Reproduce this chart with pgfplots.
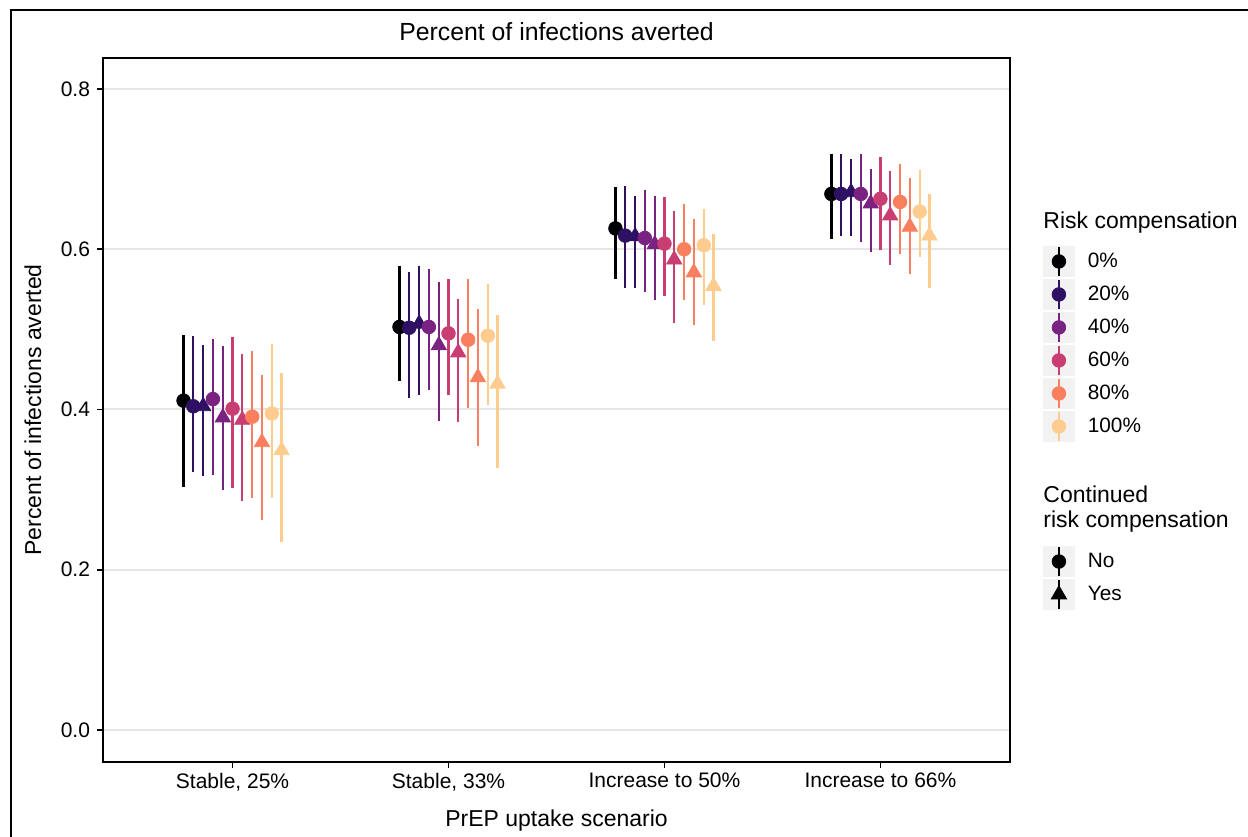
\documentclass[border=0pt]{standalone}
\usepackage{fontspec}
\setmainfont{Liberation Sans}
\usepackage{pgfplots}
\pgfplotsset{compat=1.18}
\definecolor{c0}{HTML}{000004}
\definecolor{c20}{HTML}{2F1163}
\definecolor{c40}{HTML}{7A2282}
\definecolor{c60}{HTML}{C83E73}
\definecolor{c80}{HTML}{FA7F5E}
\definecolor{c100}{HTML}{FECC8F}
\definecolor{gridc}{HTML}{E6E6E6}
\definecolor{keybg}{HTML}{F2F2F2}
\pgfplotsset{
 keycirc/.style={legend image code/.code={
   \fill[keybg] (0bp,-7.5bp) rectangle (15.5bp,7.5bp);
   \draw[#1,line width=1.2bp] (7.75bp,-7.4bp)--(7.75bp,7.4bp);
   \fill[#1] (7.75bp,0bp) circle (3.4bp);
   \path (22bp,0bp);}},
 keytri/.style={legend image code/.code={
   \fill[keybg] (0bp,-7.5bp) rectangle (15.5bp,7.5bp);
   \draw[#1,line width=1.2bp] (7.75bp,-7.4bp)--(7.75bp,7.4bp);
   \fill[#1] (7.75bp,4.4bp) -- (11.56bp,-2.2bp) -- (3.94bp,-2.2bp) -- cycle;
   \path (22bp,0bp);}},
 pr/.style={only marks, color=#1, mark options={draw=none, fill=#1},
   error bars/y dir=both, error bars/y explicit, error bars/error mark=none,
   error bars/error bar style={line width=1.2bp, color=#1}},
 prc/.style={pr=#1, mark=*, mark size=3.4bp},
 prt/.style={pr=#1, mark=triangle*, mark size=4.4bp},
}
\newcommand{\tfont}{\fontsize{12.4bp}{14bp}\selectfont}
\newcommand{\lfont}{\fontsize{11.5bp}{12.5bp}\selectfont}
\newcommand{\kfont}{\fontsize{10.5bp}{12bp}\selectfont}
\newcommand{\gfont}{\fontsize{10.4bp}{12bp}\selectfont}
\begin{document}
\begin{tikzpicture}
\useasboundingbox (-51.5bp,-37.5bp) rectangle (572.5bp,381bp);
\draw[line width=1bp] (-46bp,-40bp) -- (-46bp,376bp) -- (580bp,376bp);
\begin{axis}[
 at={(0,0)}, anchor=south west, scale only axis, width=453.5bp, height=352bp,
 clip=false,
 xmin=-0.6, xmax=3.6, ymin=-0.04, ymax=0.8387,
 xtick={0,1,2,3},
 xticklabels={{Stable, 25\%},{Stable, 33\%},{Increase to 50\%},{Increase to 66\%}},
 ytick={0,0.2,0.4,0.6,0.8}, yticklabels={0.0,0.2,0.4,0.6,0.8},
 /pgf/number format/assume math mode=true,
 ymajorgrids, major grid style={gridc, line width=1bp},
 tick align=outside, major tick length=3bp, tick style={black, line width=0.8bp},
 xtick pos=bottom, ytick pos=left,
 axis line style={line width=0.9bp},
 ticklabel style={font=\kfont, text=black},
 xticklabel style={yshift=1bp},
 xlabel={PrEP uptake scenario},
 xlabel style={at={(axis description cs:0.5,-0.0835)}, anchor=center, font=\lfont},
 ylabel={Percent of infections averted},
 ylabel style={at={(axis description cs:-0.0772,0.5)}, anchor=center, font=\lfont},
 legend style={at={(axis description cs:1.0364,0.7337)}, anchor=north west,
   draw=none, fill=none, inner sep=0pt, outer sep=0pt, row sep=0.5bp,
   font=\gfont, cells={anchor=west}, nodes={inner sep=0pt}},
]
% 0% No
\addplot[prc=c0, forget plot] table[x=x,y=y,y error plus expr=\thisrow{hi}-\thisrow{y},y error minus expr=\thisrow{y}-\thisrow{lo}] {
x y lo hi
-0.227 0.411 0.303 0.493
0.773 0.503 0.435 0.579
1.773 0.626 0.563 0.678
2.773 0.669 0.613 0.719
};
% 20% No
\addplot[prc=c20, forget plot] table[x=x,y=y,y error plus expr=\thisrow{hi}-\thisrow{y},y error minus expr=\thisrow{y}-\thisrow{lo}] {
x y lo hi
-0.182 0.404 0.322 0.492
0.818 0.502 0.414 0.572
1.818 0.617 0.552 0.679
2.818 0.669 0.617 0.719
};
% 20% Yes
\addplot[prt=c20, forget plot] table[x=x,y=y,y error plus expr=\thisrow{hi}-\thisrow{y},y error minus expr=\thisrow{y}-\thisrow{lo}] {
x y lo hi
-0.136 0.404 0.317 0.480
0.864 0.507 0.418 0.579
1.864 0.616 0.552 0.666
2.864 0.671 0.617 0.713
};
% 40% No
\addplot[prc=c40, forget plot] table[x=x,y=y,y error plus expr=\thisrow{hi}-\thisrow{y},y error minus expr=\thisrow{y}-\thisrow{lo}] {
x y lo hi
-0.091 0.413 0.318 0.488
0.909 0.503 0.424 0.575
1.909 0.614 0.547 0.674
2.909 0.669 0.609 0.719
};
% 40% Yes
\addplot[prt=c40, forget plot] table[x=x,y=y,y error plus expr=\thisrow{hi}-\thisrow{y},y error minus expr=\thisrow{y}-\thisrow{lo}] {
x y lo hi
-0.045 0.390 0.300 0.479
0.955 0.480 0.386 0.559
1.955 0.606 0.537 0.667
2.955 0.657 0.597 0.700
};
% 60% No
\addplot[prc=c60, forget plot] table[x=x,y=y,y error plus expr=\thisrow{hi}-\thisrow{y},y error minus expr=\thisrow{y}-\thisrow{lo}] {
x y lo hi
0.000 0.401 0.302 0.491
1.000 0.495 0.418 0.563
2.000 0.607 0.542 0.665
3.000 0.663 0.599 0.715
};
% 60% Yes
\addplot[prt=c60, forget plot] table[x=x,y=y,y error plus expr=\thisrow{hi}-\thisrow{y},y error minus expr=\thisrow{y}-\thisrow{lo}] {
x y lo hi
0.045 0.387 0.286 0.469
1.045 0.471 0.384 0.538
2.045 0.587 0.508 0.648
3.045 0.642 0.580 0.698
};
% 80% No
\addplot[prc=c80, forget plot] table[x=x,y=y,y error plus expr=\thisrow{hi}-\thisrow{y},y error minus expr=\thisrow{y}-\thisrow{lo}] {
x y lo hi
0.091 0.391 0.289 0.473
1.091 0.487 0.402 0.563
2.091 0.600 0.537 0.657
3.091 0.659 0.594 0.707
};
% 80% Yes
\addplot[prt=c80, forget plot] table[x=x,y=y,y error plus expr=\thisrow{hi}-\thisrow{y},y error minus expr=\thisrow{y}-\thisrow{lo}] {
x y lo hi
0.136 0.359 0.262 0.443
1.136 0.440 0.354 0.526
2.136 0.571 0.505 0.638
3.136 0.628 0.569 0.689
};
% 100% No
\addplot[prc=c100, forget plot] table[x=x,y=y,y error plus expr=\thisrow{hi}-\thisrow{y},y error minus expr=\thisrow{y}-\thisrow{lo}] {
x y lo hi
0.182 0.395 0.289 0.482
1.182 0.492 0.405 0.557
2.182 0.605 0.530 0.650
3.182 0.647 0.590 0.699
};
% 100% Yes
\addplot[prt=c100, forget plot] table[x=x,y=y,y error plus expr=\thisrow{hi}-\thisrow{y},y error minus expr=\thisrow{y}-\thisrow{lo}] {
x y lo hi
0.227 0.349 0.235 0.445
1.227 0.432 0.327 0.518
2.227 0.554 0.485 0.619
3.227 0.617 0.552 0.669
};
\addlegendimage{keycirc=c0}\addlegendentry{0\%}
\addlegendimage{keycirc=c20}\addlegendentry{20\%}
\addlegendimage{keycirc=c40}\addlegendentry{40\%}
\addlegendimage{keycirc=c60}\addlegendentry{60\%}
\addlegendimage{keycirc=c80}\addlegendentry{80\%}
\addlegendimage{keycirc=c100}\addlegendentry{100\%}
\node[anchor=center, inner sep=0pt, font=\tfont] at (axis description cs:0.5,1.037) {Percent of infections averted};
\node[anchor=west, inner sep=0pt, font=\lfont] at (axis description cs:1.0364,0.766) {Risk compensation};
\end{axis}
\begin{axis}[
 at={(0,0)}, anchor=south west, scale only axis, width=453.5bp, height=352bp,
 hide axis, clip=false, xmin=0, xmax=1, ymin=0, ymax=1,
 legend style={at={(axis description cs:1.0364,0.3075)}, anchor=north west,
   draw=none, fill=none, inner sep=0pt, outer sep=0pt, row sep=0.5bp,
   font=\gfont, cells={anchor=west}, nodes={inner sep=0pt}},
]
\addlegendimage{keycirc=black}\addlegendentry{No}
\addlegendimage{keytri=black}\addlegendentry{Yes}
\node[anchor=west, inner sep=0pt, font=\lfont, align=left] at (axis description cs:1.0364,0.3587) {Continued\\risk compensation};
\end{axis}
\end{tikzpicture}
\end{document}
